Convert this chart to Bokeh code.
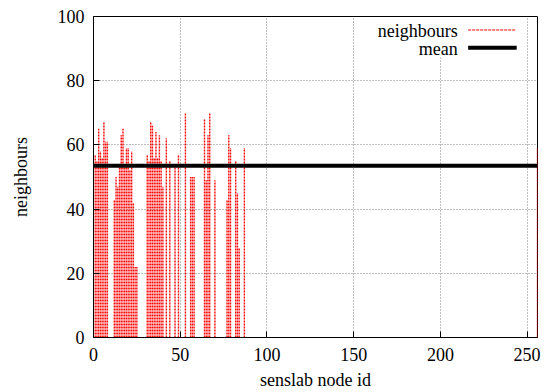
from bokeh.plotting import figure
from bokeh.models import (Range1d, FixedTicker, Label, Arrow, BoxAnnotation,
                          ColumnDataSource)
from bokeh.embed import file_html
from bokeh.resources import INLINE

# ---- data ----
node_ids = [1, 2, 3, 4, 5, 6, 7, 8,
            12, 13, 14, 15, 16, 17, 18, 19, 20, 21, 22, 23, 24, 25,
            31, 32, 33, 34, 35, 36, 37, 38, 39, 40,
            42, 44, 47, 49, 53, 56, 57, 58,
            64, 65, 66, 67, 70, 77, 78, 79, 82, 83, 84, 87, 256]
neighbours = [57, 55, 65, 58, 56, 67, 61, 61,
              43, 50, 47, 53, 63, 65, 54, 59, 59, 52, 58, 42, 22, 22,
              57, 55, 67, 66, 56, 64, 56, 63, 55, 47,
              62, 55, 53, 57, 70, 50, 50, 50,
              68, 49, 63, 70, 49, 43, 63, 59, 55, 45, 28, 59, 59]
mean_neighbours = 53.5
x_limits = [0, 256]
y_limits = [0, 100]
x_ticks = [0, 50, 100, 150, 200, 250]
y_ticks = [0, 20, 40, 60, 80, 100]

FONT = "Liberation Serif"
FS = "18px"

p = figure(width=541, height=392, output_backend="svg", toolbar_location=None,
           x_range=Range1d(*x_limits), y_range=Range1d(*y_limits),
           min_border_left=93, min_border_right=4, min_border_top=16,
           min_border_bottom=55)
p.background_fill_color = "white"
p.border_fill_color = "white"
p.outline_line_color = "black"
p.outline_line_width = 1
p.outline_line_alpha = 1

# impulses
src = ColumnDataSource(dict(x=node_ids, v=neighbours, z=[0] * len(node_ids)))
p.segment(x0="x", y0="z", x1="x", y1="v", source=src, line_color="#ff0000",
          line_width=1.4, line_dash="2 1")

# mean line
p.line(x=x_limits, y=[mean_neighbours, mean_neighbours], line_color="black",
       line_width=4)

# axes
p.xaxis.ticker = FixedTicker(ticks=x_ticks)
p.yaxis.ticker = FixedTicker(ticks=y_ticks)
for ax in (p.xaxis[0], p.yaxis[0]):
    ax.major_tick_in = 6
    ax.major_tick_out = 0
    ax.minor_tick_line_color = None
    ax.axis_line_color = "black"
    ax.major_tick_line_color = "black"
    ax.major_label_text_font = FONT
    ax.major_label_text_font_size = FS
    ax.major_label_text_color = "black"
    ax.axis_label_text_font = FONT
    ax.axis_label_text_font_size = FS
    ax.axis_label_text_font_style = "normal"
    ax.axis_label_text_color = "black"
p.xaxis.axis_label = "senslab node id"
p.yaxis.axis_label = "neighbours"
p.xaxis.major_label_standoff = 10
p.xaxis.axis_label_standoff = 6
p.yaxis.major_label_standoff = 9
p.yaxis.axis_label_standoff = 24

# grid
for g in (p.xgrid[0], p.ygrid[0]):
    g.grid_line_color = "#808080"
    g.grid_line_dash = "1 2"
    g.grid_line_width = 1
p.xgrid.ticker = FixedTicker(ticks=x_ticks)
p.ygrid.ticker = FixedTicker(ticks=y_ticks)

# key (gnuplot style: label left of the sample, opaque box)
p.add_layout(BoxAnnotation(left=160, right=248, bottom=87.3, top=99.7,
                           fill_color="white", fill_alpha=1, line_color=None))
p.add_layout(Label(x=210, y=95.6, text="neighbours", text_align="right",
                   text_baseline="middle", text_font=FONT, text_font_size=FS,
                   text_color="black"))
p.add_layout(Label(x=210, y=89.9, text="mean", text_align="right",
                   text_baseline="middle", text_font=FONT, text_font_size=FS,
                   text_color="black"))
p.add_layout(Arrow(end=None, x_start=216, y_start=95.8, x_end=243.5, y_end=95.8,
                   line_color="#ff0000", line_width=1, line_dash="3 1"))
p.add_layout(Arrow(end=None, x_start=216, y_start=90.3, x_end=244, y_end=90.3,
                   line_color="black", line_width=4))

open("out.html", "w").write(file_html(p, INLINE))
